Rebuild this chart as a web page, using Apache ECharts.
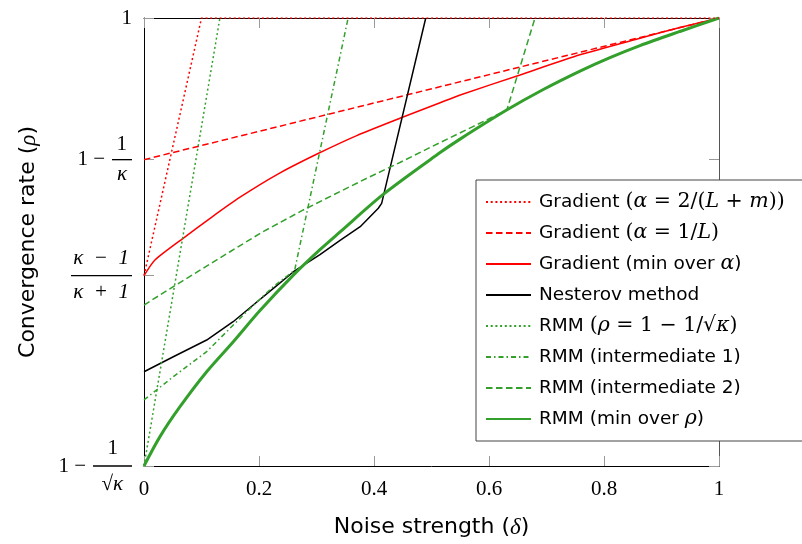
<!DOCTYPE html>
<html>
<head>
<meta charset="utf-8">
<script src="https://cdn.jsdelivr.net/npm/echarts@6/dist/echarts.min.js"></script>
<style>html,body{margin:0;padding:0;background:#fff}#c{width:802px;height:544px}</style>
</head>
<body>
<div id="c"></div>
<script>
// ---- data (rho vs delta, kappa = 10) ----
const gradFixedX = [0, 0.1, 1];
const gradFixedY = [0.8182, 1, 1];
const gradInvLX = [0, 1];
const gradInvLY = [0.9, 1];
const gradMinX = [0, 0.019, 0.068, 0.118, 0.167, 0.2336, 0.300, 0.370, 0.445, 0.515, 0.55, 0.654, 0.758, 0.8626, 0.932, 1];
const gradMinY = [0.8182, 0.8292, 0.8445, 0.8595, 0.8735, 0.8900, 0.9038, 0.9170, 0.9292, 0.9402, 0.9457, 0.9598, 0.974, 0.9857, 0.9933, 1];
const nesterovX = [0, 0.051, 0.109, 0.155, 0.19, 0.225, 0.26, 0.306, 0.341, 0.376, 0.4075, 0.4133, 0.49];
const nesterovY = [0.7503, 0.7609, 0.7727, 0.7856, 0.7974, 0.8092, 0.8209, 0.8330, 0.8430, 0.8527, 0.8657, 0.8692, 1];
const rmmFixedX = [0, 0.132];
const rmmFixedY = [0.6838, 1];
const rmmInt1X = [0, 0.051, 0.109, 0.1438, 0.1786, 0.225, 0.262, 0.355];
const rmmInt1Y = [0.7304, 0.7468, 0.7645, 0.7786, 0.7927, 0.8104, 0.822, 1];
const rmmInt2X = [0, 0.051, 0.1496, 0.207, 0.277, 0.341, 0.388, 0.445, 0.497, 0.573, 0.631, 0.68];
const rmmInt2Y = [0.7974, 0.8104, 0.835, 0.8492, 0.8645, 0.8775, 0.887, 0.898, 0.9085, 0.9235, 0.935, 1];
const rmmMinX = [0, 0.0278, 0.0626, 0.109, 0.1553, 0.2017, 0.2597, 0.306, 0.341, 0.416, 0.515, 0.5496, 0.6307, 0.6944, 0.7583, 0.8104, 0.8626, 0.932, 1];
const rmmMinY = [0.6838, 0.7045, 0.7256, 0.7503, 0.7715, 0.7935, 0.8185, 0.8365, 0.849, 0.8755, 0.905, 0.9145, 0.935, 0.9495, 0.9625, 0.972, 0.9805, 0.9905, 1];

const seriesNames = [
  'Gradient (α = 2/(L + m))',
  'Gradient (α = 1/L)',
  'Gradient (min over α)',
  'Nesterov method',
  'RMM (ρ = 1 − 1/√κ)',
  'RMM (intermediate 1)',
  'RMM (intermediate 2)',
  'RMM (min over ρ)'
];
const legendRich = [
  '{s|Gradient }{m|(}{i|α}{m| = 2/(}{i|L}{m| + }{i|m}{m|))}',
  '{s|Gradient }{m|(}{i|α}{m| = 1/}{i|L}{m|)}',
  '{s|Gradient (min over }{i|α}{s|)}',
  '{s|Nesterov method}',
  '{s|RMM }{m|(}{i|ρ}{m| = 1 − 1/√}{i|κ}{m|)}',
  '{s|RMM (intermediate 1)}',
  '{s|RMM (intermediate 2)}',
  '{s|RMM (min over }{i|ρ}{s|)}'
];

const E = '\u2002', NB = '\u00a0';
const xTickValues = [0, 0.2, 0.4, 0.6, 0.8, 1];
const yTickValues = [0.68377, 0.81818, 0.9, 1];
// fraction parts of the y tick labels
const yTickLabels = [
  '{num2|1}\n{bar2|' + NB + '}\n{den2|√κ}',
  '{wide|κ' + E + '−' + E + '1}\n{barW|' + NB + '}\n{wide2|κ' + E + '+' + E + '1}',
  '{num|1}\n{bar|' + NB + '}\n{den|κ}',
  '{one|1}'
];
// "1 −" prefixes of the y tick labels
const yTickPrefixes = ['{p2|1 −}', '', '{p1|1 −}', ''];

const RED = '#ff0000', GREEN = '#33a02c', BLACK = '#000000';
const pairs = (xs, ys) => xs.map((x, i) => [x, ys[i]]);

const SERIF = '"Liberation Serif", "DejaVu Serif", serif';
const MATH = '"DejaVu Serif", serif';
const SANS = '"DejaVu Sans", sans-serif';

function line(name, xs, ys, color, width, type, z, smooth) {
  return {
    name: name, type: 'line', data: pairs(xs, ys), showSymbol: false, symbol: 'none',
    smooth: smooth || false,
    lineStyle: { color: color, width: width, type: type },
    itemStyle: { color: color },
    z: z, animation: false, clip: true
  };
}
function nearest(v) {
  let best = 0;
  yTickValues.forEach((t, i) => { if (Math.abs(t - v) < Math.abs(yTickValues[best] - v)) best = i; });
  return best;
}

const chart = echarts.init(document.getElementById('c'), null, { renderer: 'canvas' });
const fs = 21;
const base = { fontFamily: SERIF, fontSize: fs, color: '#000', verticalAlign: 'middle' };
const barSt = w => ({ width: w, height: 1.3, fontSize: 1, backgroundColor: '#000', lineHeight: 10, verticalAlign: 'middle', align: 'right' });
chart.setOption({
  animation: false,
  backgroundColor: '#fff',
  grid: { left: 144, top: 18, width: 575, height: 448, show: false },
  xAxis: [{
    type: 'value', min: 0, max: 1, interval: 0.2, position: 'bottom',
    name: '{t|Noise strength (}{i|δ}{t|)}', nameLocation: 'middle', nameGap: 50,
    nameTextStyle: { rich: {
      t: { fontFamily: SANS, fontSize: 22, color: '#000' },
      i: { fontFamily: SERIF, fontStyle: 'italic', fontSize: 23, color: '#000' } } },
    axisLine: { show: true, onZero: false, lineStyle: { color: '#000', width: 1 } },
    axisTick: { show: true, inside: true, length: 10, lineStyle: { color: '#999', width: 1 } },
    axisLabel: { show: true, margin: 13, fontFamily: SERIF, fontSize: 21, color: '#000',
      formatter: v => String(Math.round(v * 10) / 10) },
    splitLine: { show: false }
  }, {
    type: 'value', min: 0, max: 1, interval: 0.2, position: 'top',
    axisLine: { show: true, onZero: false, lineStyle: { color: '#000', width: 1 } },
    axisTick: { show: true, inside: true, length: 10, lineStyle: { color: '#999', width: 1 } },
    axisLabel: { show: false }, splitLine: { show: false }
  }],
  yAxis: [{
    type: 'value', min: 0.68377, max: 1, position: 'left',
    name: '{t|Convergence rate (}{i|ρ}{t|)}', nameLocation: 'middle', nameGap: 104, nameRotate: 90,
    nameTextStyle: { rich: {
      t: { fontFamily: SANS, fontSize: 22, color: '#000' },
      i: { fontFamily: SERIF, fontStyle: 'italic', fontSize: 23, color: '#000' } } },
    axisLine: { show: true, onZero: false, lineStyle: { color: '#000', width: 1 } },
    axisTick: { show: true, inside: true, length: 10, customValues: yTickValues, lineStyle: { color: '#999', width: 1 } },
    axisLabel: { show: true, margin: 12, customValues: yTickValues, align: 'right',
      formatter: v => yTickLabels[nearest(v)],
      rich: {
        one: Object.assign({}, base),
        num: Object.assign({}, base, { align: 'right', padding: [0, 5, 0, 0], lineHeight: 20 }),
        den: Object.assign({}, base, { fontStyle: 'italic', align: 'right', padding: [0, 5, 0, 0], lineHeight: 20 }),
        bar: barSt(20),
        num2: Object.assign({}, base, { align: 'right', padding: [0, 14, 0, 0], lineHeight: 26 }),
        den2: Object.assign({}, base, { fontStyle: 'italic', align: 'right', padding: [0, 9, 0, 0], lineHeight: 26 }),
        bar2: barSt(39),
        wide: Object.assign({}, base, { fontStyle: 'italic', align: 'right', padding: [0, 3, 0, 0], lineHeight: 24 }),
        wide2: Object.assign({}, base, { fontStyle: 'italic', align: 'right', padding: [0, 3, 0, 0], lineHeight: 24 }),
        barW: barSt(61)
      }
    },
    splitLine: { show: false }
  }, {
    type: 'value', min: 0.68377, max: 1, position: 'right',
    axisLine: { show: true, onZero: false, lineStyle: { color: '#555', width: 1 } },
    axisTick: { show: true, inside: true, length: 10, customValues: yTickValues, lineStyle: { color: '#999', width: 1 } },
    axisLabel: { show: false }, splitLine: { show: false }
  }, {
    type: 'value', min: 0.68377, max: 1, position: 'left',
    axisLine: { show: false }, axisTick: { show: false }, splitLine: { show: false },
    axisLabel: { show: true, margin: 12, customValues: yTickValues, align: 'right',
      formatter: v => yTickPrefixes[nearest(v)],
      rich: {
        p1: Object.assign({}, base, { padding: [0, 27, 0, 0] }),
        p2: Object.assign({}, base, { padding: [0, 46, 0, 0] })
      }
    }
  }],
  legend: {
    orient: 'vertical', left: 476, top: 180,
    data: seriesNames,
    itemWidth: 45, itemHeight: 4, itemGap: 9,
    padding: [11, 40, 11, 9],
    itemStyle: { opacity: 0 },
    backgroundColor: '#fff', borderColor: '#444', borderWidth: 1, borderRadius: 0,
    formatter: name => legendRich[seriesNames.indexOf(name)],
    textStyle: {
      padding: [0, 0, 0, 3], lineHeight: 22,
      rich: {
        s: { fontFamily: SANS, fontSize: 18.5, color: '#000' },
        m: { fontFamily: MATH, fontSize: 20.5, color: '#000' },
        i: { fontFamily: MATH, fontStyle: 'italic', fontSize: 20.5, color: '#000' }
      }
    }
  },
  series: [
    line(seriesNames[0], gradFixedX, gradFixedY, RED, 1.5, [2, 2.7], 8),
    line(seriesNames[1], gradInvLX, gradInvLY, RED, 1.5, [6.5, 3.5], 3),
    line(seriesNames[2], gradMinX, gradMinY, RED, 1.5, 'solid', 3, 0.2),
    line(seriesNames[3], nesterovX, nesterovY, BLACK, 1.5, 'solid', 3),
    line(seriesNames[4], rmmFixedX, rmmFixedY, GREEN, 1.5, [2, 2.7], 3),
    line(seriesNames[5], rmmInt1X, rmmInt1Y, GREEN, 1.5, [5, 3, 1.5, 3], 3),
    line(seriesNames[6], rmmInt2X, rmmInt2Y, GREEN, 1.5, [6.5, 3.5], 3),
    line(seriesNames[7], rmmMinX, rmmMinY, GREEN, 3, 'solid', 3, 0.3)
  ]
});
</script>
</body>
</html>
